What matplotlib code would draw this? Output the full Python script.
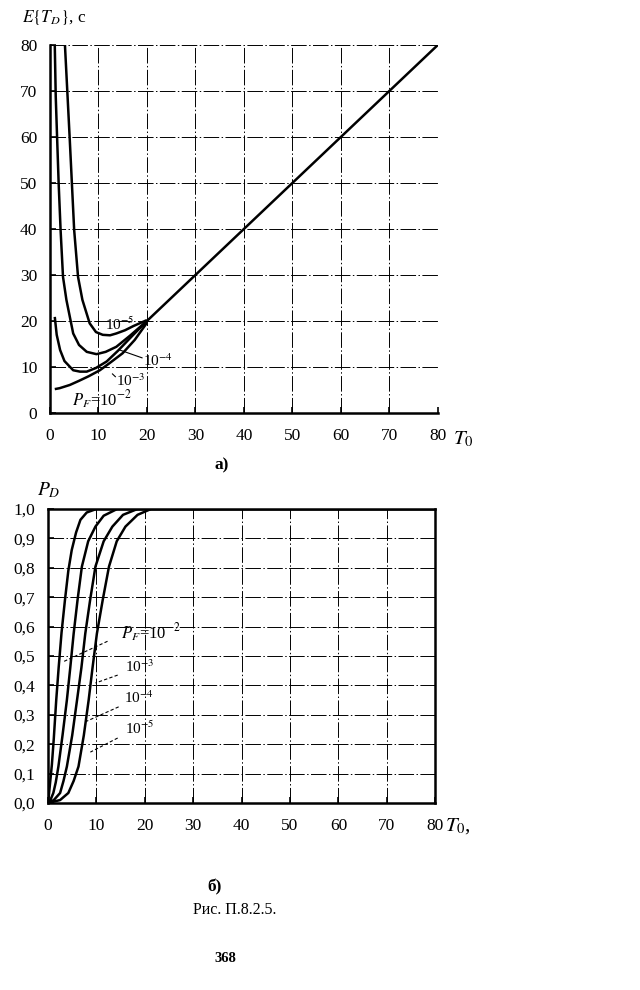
import matplotlib.pyplot as plt
import numpy as np

plt.rcParams['font.family'] = ['Liberation Serif', 'DejaVu Serif']
plt.rcParams['mathtext.fontset'] = 'stix'

#------------------------[data: a) mean detection time]------------------------#
t_pf2 = [1.0, 2.0, 4.1, 6.0, 8.0, 10.3, 12.5, 15.0, 17.5, 20.0]
e_pf2 = [5.2, 5.4, 6.1, 7.0, 8.0, 9.3, 11.0, 13.0, 15.9, 19.6]

t_pf3 = [1.0, 1.4, 2.1, 3.0, 4.8, 6.2, 7.6, 9.5, 11.7, 14.0, 17.0, 20.0]
e_pf3 = [20.9, 17.0, 13.7, 11.3, 9.3, 9.0, 9.0, 9.8, 11.2, 13.5, 16.8, 20.0]

t_pf4 = [1.0, 1.2, 1.5, 1.8, 2.2, 2.7, 3.4, 4.8, 6.0, 7.6, 9.6, 11.5, 13.7, 16.5, 20.0]
e_pf4 = [80.0, 68.8, 59.3, 50.0, 39.8, 29.6, 24.6, 17.3, 14.8, 13.3, 12.8, 13.3, 14.4, 16.8, 20.0]

t_pf5 = [3.1, 4.1, 5.0, 5.8, 6.7, 8.2, 9.5, 10.9, 12.4, 13.7, 15.5, 17.2, 20.0]
e_pf5 = [80.0, 59.3, 39.8, 29.6, 24.6, 19.5, 17.6, 17.0, 16.9, 17.3, 18.0, 18.9, 20.2]

t_line = [20.0, 80.0]
e_line = [20.0, 80.0]

#------------------------[data: b) detection probability]------------------------#
tb_pf2 = [0, 0.2, 0.5, 0.8, 1.2, 1.7, 2.2, 2.8, 3.5, 4.2, 4.9, 5.8, 6.7, 8.0, 10.0, 80.0]
pb_pf2 = [0, 0.03, 0.08, 0.13, 0.22, 0.35, 0.46, 0.58, 0.69, 0.79, 0.86, 0.92, 0.963, 0.988, 1.0, 1.0]

tb_pf3 = [0, 0.5, 1.1, 1.6, 2.15, 3.0, 3.9, 4.6, 5.3, 6.1, 7.0, 8.3, 9.8, 11.5, 14.3, 80.0]
pb_pf3 = [0, 0.01, 0.034, 0.07, 0.124, 0.23, 0.35, 0.46, 0.576, 0.69, 0.804, 0.89, 0.94, 0.977, 1.0, 1.0]

tb_pf4 = [0, 1.2, 2.5, 3.2, 3.9, 5.0, 6.0, 6.9, 7.7, 8.7, 9.8, 11.5, 13.3, 15.5, 18.5, 80.0]
pb_pf4 = [0, 0.01, 0.034, 0.075, 0.124, 0.23, 0.35, 0.46, 0.576, 0.69, 0.804, 0.89, 0.94, 0.98, 1.0, 1.0]

tb_pf5 = [0, 2.5, 4.2, 5.3, 6.3, 7.4, 8.4, 9.2, 10.1, 11.3, 12.6, 14.2, 16.0, 18.5, 21.3, 80.0]
pb_pf5 = [0, 0.01, 0.034, 0.075, 0.124, 0.23, 0.35, 0.46, 0.576, 0.69, 0.804, 0.89, 0.94, 0.98, 1.0, 1.0]

x_ticks = [0, 10, 20, 30, 40, 50, 60, 70, 80]
ya_ticks = [0, 10, 20, 30, 40, 50, 60, 70, 80]
yb_ticks = [0.0, 0.1, 0.2, 0.3, 0.4, 0.5, 0.6, 0.7, 0.8, 0.9, 1.0]

grid_style = dict(color='black', lw=0.7, dashes=(16, 2.5, 1.5, 2.5))

fig = plt.figure(figsize=(6.4, 9.9), dpi=100)
ax1 = fig.add_axes([0.078, 0.5828, 0.606, 0.3717])
ax2 = fig.add_axes([0.075, 0.1889, 0.605, 0.2970])

#------------------------[Part a]------------------------#
for t, e in [(t_pf2, e_pf2), (t_pf3, e_pf3), (t_pf4, e_pf4), (t_pf5, e_pf5)]:
    ax1.plot(t, e, color='black', lw=1.8, solid_capstyle='butt', clip_on=False)
ax1.plot(t_line, e_line, color='black', lw=1.8)

ax1.set_xlim(0, 80)
ax1.set_ylim(0, 80)
ax1.set_xticks(x_ticks)
ax1.set_yticks(ya_ticks)
for v in x_ticks[1:]:
    ax1.axvline(v, **grid_style)
for v in ya_ticks[1:]:
    ax1.axhline(v, **grid_style)
ax1.spines['top'].set_visible(False)
ax1.spines['right'].set_visible(False)

ax1.text(11.3, 19.2, '10$^{-5}$', fontsize=11, va='center')
ax1.text(19.2, 11.3, '10$^{-4}$', fontsize=11, va='center')
ax1.plot([14.4, 19.0], [13.7, 12.0], color='black', lw=0.8)
ax1.text(13.6, 7.0, '10$^{-3}$', fontsize=11, va='center')
ax1.plot([12.9, 13.5], [8.5, 7.9], color='black', lw=0.8)
ax1.text(4.5, 2.8, '$P_F$=10$^{-2}$', fontsize=12, va='center')

#------------------------[Part b]------------------------#
for t, p in [(tb_pf2, pb_pf2), (tb_pf3, pb_pf3), (tb_pf4, pb_pf4), (tb_pf5, pb_pf5)]:
    ax2.plot(t, p, color='black', lw=1.8)

ax2.set_xlim(0, 80)
ax2.set_ylim(0, 1.0)
ax2.set_xticks(x_ticks)
ax2.set_yticks(yb_ticks)
ax2.set_yticklabels([f'{v:.1f}'.replace('.', ',') for v in yb_ticks])
for v in x_ticks[1:-1]:
    ax2.axvline(v, **grid_style)
for v in yb_ticks[1:-1]:
    ax2.axhline(v, **grid_style)

ax2.text(15.0, 0.578, '$P_F$=10$^{-2}$', fontsize=12, va='center')
ax2.text(16.0, 0.463, '10$^{-3}$', fontsize=11, va='center')
ax2.text(15.6, 0.357, '10$^{-4}$', fontsize=11, va='center')
ax2.text(16.0, 0.255, '10$^{-5}$', fontsize=11, va='center')
leader = dict(color='black', lw=0.8, dashes=(3, 2))
ax2.plot([12.3, 3.1], [0.55, 0.48], **leader)
ax2.plot([14.4, 9.8], [0.435, 0.408], **leader)
ax2.plot([14.6, 7.7], [0.327, 0.276], **leader)
ax2.plot([14.4, 8.75], [0.221, 0.173], **leader)

for ax in (ax1, ax2):
    ax.tick_params(direction='in', length=4, width=1.2, labelsize=12.5)
    ax.tick_params(axis='x', pad=11)
    ax.tick_params(axis='y', pad=9)
    for s in ax.spines.values():
        s.set_linewidth(1.8)

#------------------------[labels]------------------------#
fig.text(0.034, 0.982, r'$E\{T_D\}$, с', fontsize=12.5, va='center')
fig.text(0.708, 0.556, '$T_0$', fontsize=15, va='center')
fig.text(0.347, 0.530, 'а)', fontsize=12.5, ha='center', va='center', weight='bold')
fig.text(0.058, 0.505, '$P_D$', fontsize=14, va='center')
fig.text(0.695, 0.166, '$T_0$,', fontsize=15, va='center')
fig.text(0.336, 0.104, 'б)', fontsize=12.5, ha='center', va='center', weight='bold')
fig.text(0.367, 0.081, 'Рис. П.8.2.5.', fontsize=11.5, ha='center', va='center')
fig.text(0.352, 0.032, '368', fontsize=10.5, ha='center', va='center', weight='bold')

fig.savefig('out.png', dpi=100)
